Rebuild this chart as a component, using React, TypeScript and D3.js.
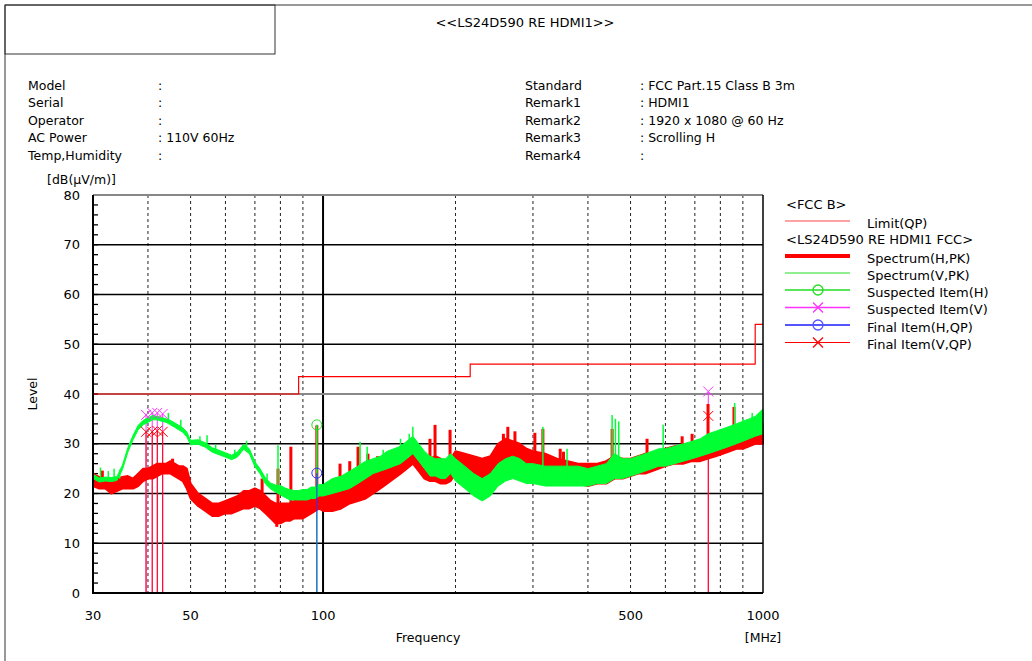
import * as d3 from "d3";

// sampled sweep frequencies (MHz) with the min/max envelope of each trace (dBuV/m)
const sampleFreq = [
  30, 31, 32, 33, 34, 35, 36, 37, 38, 39, 40, 41, 42, 43, 44, 45, 46, 47, 48, 49,
  50, 52, 54, 56, 58, 60, 62, 64, 66, 68, 70, 72, 74, 76, 78, 80, 82, 84, 86, 88,
  90, 92, 94, 96, 98, 100, 105, 110, 115, 120, 125, 130, 135, 140, 145, 150, 155, 160, 165, 170,
  175, 180, 185, 190, 195, 200, 210, 220, 230, 240, 250, 260, 270, 280, 290, 300, 320, 340, 360, 380,
  400, 420, 440, 460, 480, 500, 520, 540, 560, 580, 600, 630, 660, 690, 720, 750, 780, 810, 840, 870,
  900, 930, 960, 1000,
];

const hLow = [
  21.5, 21.0, 21.0, 20.0, 20.5, 21.0, 21.0, 21.0, 21.5, 22.5, 23.0, 23.0, 23.5, 24.0, 24.0, 24.0, 23.5, 23.0, 22.5, 21.0,
  19.0, 17.5, 16.5, 15.5, 15.5, 16.0, 16.0, 16.5, 17.0, 17.0, 17.5, 17.0, 16.0, 15.0, 14.0, 14.0, 14.5, 14.5, 15.0, 15.0,
  15.0, 15.5, 16.0, 16.5, 17.0, 16.5, 16.5, 17.0, 18.0, 18.5, 19.0, 20.0, 21.0, 22.0, 23.0, 24.0, 25.0, 26.0, 24.5, 23.0,
  22.5, 22.5, 22.0, 22.0, 22.5, 24.0, 23.5, 23.0, 23.0, 23.5, 24.5, 25.0, 25.0, 24.5, 23.5, 23.0, 23.0, 22.5, 22.0, 22.0,
  21.5, 22.0, 22.0, 23.0, 23.0, 23.5, 24.0, 24.0, 24.5, 25.0, 25.5, 26.0, 26.0, 26.5, 26.5, 27.0, 27.5, 28.0, 28.5, 29.0,
  29.0, 29.5, 30.0, 30.0,
];
const hHigh = [
  24.0, 23.3, 23.0, 22.5, 23.0, 23.3, 23.5, 23.0, 24.0, 25.0, 25.0, 25.5, 26.0, 26.0, 26.0, 26.5, 26.0, 25.5, 25.5, 25.0,
  22.0, 20.0, 19.0, 18.0, 18.0, 18.5, 19.0, 19.5, 20.5, 20.5, 21.0, 20.5, 19.5, 18.5, 18.0, 18.0, 18.0, 18.0, 18.5, 18.5,
  19.0, 19.0, 19.5, 20.0, 20.0, 20.0, 20.0, 20.5, 21.5, 22.5, 23.5, 24.5, 25.5, 26.5, 27.5, 28.0, 29.0, 30.0, 29.0, 28.0,
  27.0, 27.5, 27.0, 26.5, 27.0, 28.5, 28.0, 27.5, 27.0, 27.5, 30.0, 31.0, 30.5, 30.0, 29.0, 28.5, 28.0, 27.0, 26.5, 26.0,
  26.0, 26.0, 26.5, 27.5, 27.0, 27.0, 27.5, 28.0, 28.0, 28.5, 29.0, 29.5, 29.5, 30.0, 30.5, 31.0, 32.0, 32.5, 33.0, 33.0,
  33.5, 33.5, 34.0, 34.0,
];

const vLow = [
  23.0, 22.3, 22.5, 22.4, 22.6, 24.8, 28.3, 30.8, 32.8, 33.8, 34.3, 34.8, 34.8, 34.5, 34.3, 33.8, 33.3, 32.8, 32.3, 31.4,
  29.8, 29.9, 29.3, 28.3, 27.8, 27.3, 26.8, 27.4, 28.9, 28.0, 25.4, 23.9, 21.9, 20.9, 20.3, 19.7, 19.2, 18.7, 18.7, 18.7,
  18.7, 18.7, 19.0, 19.0, 19.5, 19.5, 20.0, 20.5, 21.0, 22.0, 23.0, 24.0, 24.5, 25.0, 25.5, 26.0, 27.0, 28.0, 26.5, 25.0,
  23.5, 23.5, 23.0, 23.0, 24.0, 22.5, 21.0, 19.5, 18.5, 19.5, 21.5, 22.5, 23.0, 22.5, 22.0, 22.0, 21.5, 21.5, 21.5, 21.5,
  21.5, 22.0, 22.0, 23.0, 23.0, 23.5, 24.0, 24.5, 25.0, 25.5, 25.5, 26.0, 26.5, 27.0, 27.5, 28.0, 28.5, 29.0, 29.5, 30.0,
  30.5, 31.0, 31.5, 32.0,
];
const vHigh = [
  23.9, 23.1, 23.3, 23.2, 23.4, 25.7, 29.2, 31.7, 33.7, 34.7, 35.2, 35.7, 35.5, 35.3, 35.0, 34.7, 34.2, 33.7, 33.2, 32.4,
  30.7, 30.8, 30.2, 29.2, 28.7, 28.2, 27.7, 28.4, 29.9, 29.0, 26.4, 24.9, 23.1, 22.1, 21.7, 21.6, 21.1, 20.8, 20.6, 20.6,
  20.8, 20.8, 21.3, 21.3, 21.8, 21.8, 23.0, 23.5, 24.5, 25.5, 26.5, 27.0, 27.5, 28.5, 29.0, 29.5, 30.5, 31.5, 30.0, 28.5,
  27.5, 27.0, 27.0, 27.0, 28.0, 27.0, 25.5, 24.0, 23.0, 24.0, 26.0, 27.0, 27.5, 27.0, 26.0, 26.0, 25.5, 25.5, 25.5, 25.5,
  25.0, 25.5, 26.0, 28.0, 27.0, 27.0, 27.5, 28.0, 28.5, 29.0, 29.0, 29.5, 30.0, 30.5, 31.0, 32.0, 32.5, 33.0, 33.5, 34.0,
  34.5, 35.0, 35.5, 37.0,
];

// narrow-band spikes (and dips) leaving each envelope
const hSpikeFreq = [31.5, 45.5, 78.5, 72.7, 79, 84.5, 96.8, 109.3, 115, 120.1, 126.5, 133, 160, 175, 179.7, 194.4, 257, 263, 273, 303, 316, 346, 352, 454, 545, 655, 690, 750, 859];
const hSpikeBase = [22, 25, 16, 19, 16, 16, 18, 18, 19, 20, 21, 22, 27, 24, 24, 24, 26, 26, 26, 24, 24, 23, 23, 24, 25, 27, 27, 28, 30];
const hSpikePeak = [24.6, 27, 13.3, 23, 25, 29.4, 33.7, 26, 26.5, 29.4, 28, 27.5, 31, 31, 33.8, 32.8, 32, 33.4, 32.5, 32.2, 33, 29, 28.4, 33, 31, 31.5, 32, 38, 37.4];

const vSpikeFreq = [31.2, 32.5, 33.5, 34.5, 44.5, 47.5, 52.5, 54.5, 57, 63, 67, 74.6, 79, 96.8, 121.4, 126, 137, 150, 157, 160, 316, 358.6, 454, 462, 470, 593, 862, 900, 945];
const vSpikeBase = [23, 23, 23, 23, 34.5, 33, 30, 30, 28.5, 27, 29, 22, 21, 20, 23, 24, 25, 27, 28, 29, 23, 23, 24, 24, 24, 27, 31, 31, 32];
const vSpikePeak = [25.2, 24.5, 25, 24.8, 36.2, 34.8, 31.5, 31.7, 29.8, 28.8, 30.6, 24, 29.7, 33.8, 30.4, 29.4, 28.8, 31, 32, 33.4, 33.4, 29, 35.8, 35, 34.5, 33.8, 38.2, 35, 36.2];

// FCC Part 15 Class B limit
const limitFreq = [30, 88, 88, 216, 216, 960, 960, 1000];
const limitLevel = [40, 40, 43.5, 43.5, 46, 46, 54, 54];

const suspectedHFreq = [96.8];
const suspectedHLevel = [33.8];
const suspectedVFreq = [39.6, 40.9, 42.0, 43.2, 751];
const suspectedVLevel = [35.8, 36.2, 36.2, 36.0, 40.5];
const finalHFreq = [96.8];
const finalHLevel = [24.1];
const finalVFreq = [39.6, 40.9, 42.0, 43.2, 751];
const finalVLevel = [32.4, 32.4, 32.6, 32.4, 35.6];

const yTicks = [0, 10, 20, 30, 40, 50, 60, 70, 80];
const yMinor = d3.range(0, 81, 2);
const xTickLabels = [30, 50, 100, 500, 1000];
const xGridFreq = [40, 50, 60, 70, 80, 90, 200, 300, 400, 500, 600, 700, 800, 900];

const headerLeft = [
  ["Model", ":"],
  ["Serial", ":"],
  ["Operator", ":"],
  ["AC Power", ": 110V 60Hz"],
  ["Temp,Humidity", ":"],
];
const headerRight = [
  ["Standard", ": FCC Part.15 Class B 3m"],
  ["Remark1", ": HDMI1"],
  ["Remark2", ": 1920 x 1080 @ 60 Hz"],
  ["Remark3", ": Scrolling H"],
  ["Remark4", ":"],
];

const RED = "#ff0000";
const GREEN = "#00ff33";
const MAGENTA = "#ff33ff";
const BLUE = "#2233ff";
const FONT = "'DejaVu Sans', Verdana, sans-serif";

const cross = "M-5,-5L5,5M-5,5L5,-5";

export default function App() {
  const width = 1032;
  const height = 661;
  const plot = { left: 93, right: 763, top: 195, bottom: 593 };

  const x = d3.scaleLog().domain([30, 1000]).range([plot.left, plot.right]);
  const y = d3.scaleLinear().domain([0, 80]).range([plot.bottom, plot.top]);

  const band = (lo: number[], hi: number[]) =>
    d3
      .area<number>()
      .x((_, i) => x(sampleFreq[i]))
      .y0((_, i) => y(lo[i]))
      .y1((_, i) => y(hi[i]))(lo) ?? "";

  const limitPath =
    d3
      .line<number>()
      .x((_, i) => x(limitFreq[i]))
      .y((d) => y(d))(limitLevel) ?? "";

  const legendRows = [
    { y: 221, label: "Limit(QP)", color: "#ff4444", w: 1, mark: "" },
    { y: 256, label: "Spectrum(H,PK)", color: RED, w: 4, mark: "" },
    { y: 273, label: "Spectrum(V,PK)", color: "#22dd22", w: 1, mark: "" },
    { y: 290, label: "Suspected Item(H)", color: "#22dd22", w: 1.5, mark: "o" },
    { y: 307.5, label: "Suspected Item(V)", color: MAGENTA, w: 1.5, mark: "x" },
    { y: 325, label: "Final Item(H,QP)", color: "#5555ff", w: 2, mark: "o" },
    { y: 342.5, label: "Final Item(V,QP)", color: RED, w: 1, mark: "x" },
  ];

  return (
    <svg
      width={width}
      height={height}
      viewBox={`0 0 ${width} ${height}`}
      style={{ position: "absolute", left: 0, top: 0, background: "#fff" }}
      fontFamily={FONT}
    >
      {/* page frame */}
      <line x1={5} x2={width} y1={5} y2={5} stroke="#333" />
      <line x1={5} x2={5} y1={5} y2={height} stroke="#333" />
      <rect x={5} y={5} width={270} height={49} fill="none" stroke="#333" />
      <text x={525} y={22} textAnchor="middle" dominantBaseline="central" fontSize="13">
        {"<<LS24D590 RE HDMI1>>"}
      </text>

      {headerLeft.map(([k, v], i) => (
        <g key={k} fontSize="12.5">
          <text x={28} y={85 + i * 17.5} dominantBaseline="central">{k}</text>
          <text x={158} y={85 + i * 17.5} dominantBaseline="central">{v}</text>
        </g>
      ))}
      {headerRight.map(([k, v], i) => (
        <g key={k} fontSize="12.5">
          <text x={525} y={85 + i * 17.5} dominantBaseline="central">{k}</text>
          <text x={640} y={85 + i * 17.5} dominantBaseline="central">{v}</text>
        </g>
      ))}

      <text x={47} y={179} dominantBaseline="central" fontSize="12.5">[dB(μV/m)]</text>
      <text
        transform={`translate(32, ${(plot.top + plot.bottom) / 2}) rotate(-90)`}
        textAnchor="middle"
        dominantBaseline="central"
        fontSize="12.5"
      >
        Level
      </text>

      {/* grid */}
      {xGridFreq.map((f) => (
        <line
          key={f}
          x1={x(f)}
          x2={x(f)}
          y1={plot.top}
          y2={plot.bottom}
          stroke="#222"
          strokeDasharray="3 3"
        />
      ))}
      <line x1={x(100)} x2={x(100)} y1={plot.top} y2={plot.bottom} stroke="#000" strokeWidth={2} />
      {yTicks.slice(1, -1).map((t) => (
        <line
          key={t}
          x1={plot.left}
          x2={plot.right}
          y1={y(t)}
          y2={y(t)}
          stroke={t === 40 ? "#888" : "#000"}
          strokeWidth={t === 40 ? 2 : 1.3}
        />
      ))}
      {yMinor.map((t) => (
        <line key={t} x1={plot.left} x2={plot.left + 5} y1={y(t)} y2={y(t)} stroke="#000" strokeWidth={1.3} />
      ))}

      {/* limit */}
      <path d={limitPath} fill="none" stroke={RED} strokeWidth={1.2} />

      {/* marker stems */}
      {suspectedVFreq.map((f, i) => (
        <line key={`sv${i}`} x1={x(f)} x2={x(f)} y1={y(0)} y2={y(suspectedVLevel[i])} stroke={MAGENTA} />
      ))}
      {suspectedHFreq.map((f, i) => (
        <line key={`sh${i}`} x1={x(f)} x2={x(f)} y1={y(0)} y2={y(suspectedHLevel[i])} stroke={GREEN} />
      ))}
      {finalVFreq.map((f, i) => (
        <line key={`fv${i}`} x1={x(f)} x2={x(f)} y1={y(0)} y2={y(finalVLevel[i])} stroke={RED} />
      ))}

      {/* horizontal polarisation spectrum */}
      <path d={band(hLow, hHigh)} fill={RED} stroke={RED} strokeWidth={2} strokeLinejoin="round" />
      {hSpikeFreq.map((f, i) => (
        <line key={`hs${i}`} x1={x(f)} x2={x(f)} y1={y(hSpikeBase[i])} y2={y(hSpikePeak[i])} stroke={RED} strokeWidth={3} />
      ))}

      {/* vertical polarisation spectrum */}
      <path d={band(vLow, vHigh)} fill={GREEN} stroke={GREEN} strokeWidth={1} strokeLinejoin="round" />
      {vSpikeFreq.map((f, i) => (
        <line key={`vs${i}`} x1={x(f)} x2={x(f)} y1={y(vSpikeBase[i])} y2={y(vSpikePeak[i])} stroke={GREEN} strokeWidth={1.5} />
      ))}

      {finalHFreq.map((f, i) => (
        <line key={`fh${i}`} x1={x(f)} x2={x(f)} y1={y(0)} y2={y(finalHLevel[i])} stroke={BLUE} strokeOpacity={0.7} strokeWidth={1.5} />
      ))}

      {/* markers */}
      {suspectedVFreq.map((f, i) => (
        <path key={`svm${i}`} d={cross} transform={`translate(${x(f)},${y(suspectedVLevel[i])})`} stroke={MAGENTA} fill="none" />
      ))}
      {finalVFreq.map((f, i) => (
        <path key={`fvm${i}`} d={cross} transform={`translate(${x(f)},${y(finalVLevel[i])})`} stroke={RED} fill="none" />
      ))}
      {suspectedHFreq.map((f, i) => (
        <circle key={`shm${i}`} cx={x(f)} cy={y(suspectedHLevel[i])} r={5} stroke="#22dd22" fill="none" />
      ))}
      {finalHFreq.map((f, i) => (
        <circle key={`fhm${i}`} cx={x(f)} cy={y(finalHLevel[i])} r={5} stroke={BLUE} fill="none" />
      ))}

      {/* frame */}
      <line x1={plot.left} x2={plot.right} y1={plot.top} y2={plot.top} stroke="#888" strokeWidth={2} />
      <line x1={plot.right} x2={plot.right} y1={plot.top} y2={plot.bottom} stroke="#000" strokeWidth={1.5} />
      <line x1={plot.left} x2={plot.left} y1={plot.top} y2={plot.bottom + 1} stroke="#000" strokeWidth={2} />
      <line x1={plot.left} x2={plot.right} y1={plot.bottom} y2={plot.bottom} stroke="#000" strokeWidth={2} />

      {/* axis labels */}
      {yTicks.map((t) => (
        <text key={t} x={plot.left - 13} y={y(t)} textAnchor="end" dominantBaseline="central" fontSize="13">
          {t}
        </text>
      ))}
      {xTickLabels.map((f) => (
        <text key={f} x={x(f)} y={615} textAnchor="middle" dominantBaseline="central" fontSize="13">
          {f}
        </text>
      ))}
      <text x={428} y={637} textAnchor="middle" dominantBaseline="central" fontSize="12.5">Frequency</text>
      <text x={763} y={637} textAnchor="middle" dominantBaseline="central" fontSize="12.5">[MHz]</text>

      {/* legend */}
      <text x={786} y={204} dominantBaseline="central" fontSize="13">{"<FCC B>"}</text>
      <text x={786} y={239} dominantBaseline="central" fontSize="13">{"<LS24D590 RE HDMI1 FCC>"}</text>
      {legendRows.map((r) => (
        <g key={r.label}>
          <line x1={785} x2={850} y1={r.y} y2={r.y} stroke={r.color} strokeWidth={r.w} />
          {r.mark === "o" && <circle cx={818} cy={r.y} r={5} stroke={r.color} fill="none" strokeWidth={1.3} />}
          {r.mark === "x" && <path d={cross} transform={`translate(818,${r.y})`} stroke={r.color} fill="none" strokeWidth={1.3} />}
          <text x={867} y={r.y + 2} dominantBaseline="central" fontSize="13">{r.label}</text>
        </g>
      ))}
    </svg>
  );
}
